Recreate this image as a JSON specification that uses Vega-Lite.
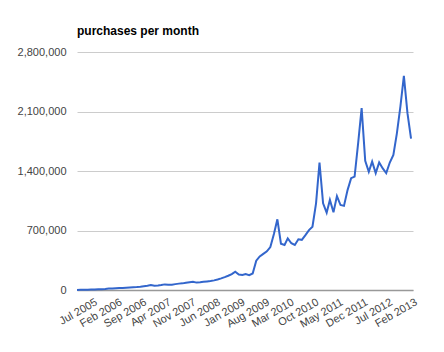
{
  "$schema": "https://vega.github.io/schema/vega-lite/v6.json",
  "width": 336,
  "height": 238,
  "autosize": "none",
  "padding": {"left": 77, "top": 52, "right": 31, "bottom": 62},
  "background": "white",
  "title": {
    "text": "purchases per month",
    "anchor": "start",
    "frame": "group",
    "font": "Liberation Sans",
    "fontSize": 12,
    "fontWeight": "bold",
    "color": "#000000",
    "offset": 8
  },
  "data": {
    "values": [
      {"month": "2005-03-01", "purchases": 1000},
      {"month": "2005-04-01", "purchases": 2000},
      {"month": "2005-05-01", "purchases": 2500},
      {"month": "2005-06-01", "purchases": 3500},
      {"month": "2005-07-01", "purchases": 4500},
      {"month": "2005-08-01", "purchases": 6000},
      {"month": "2005-09-01", "purchases": 8000},
      {"month": "2005-10-01", "purchases": 10000},
      {"month": "2005-11-01", "purchases": 13000},
      {"month": "2005-12-01", "purchases": 17000},
      {"month": "2006-01-01", "purchases": 18000},
      {"month": "2006-02-01", "purchases": 21000},
      {"month": "2006-03-01", "purchases": 23000},
      {"month": "2006-04-01", "purchases": 24000},
      {"month": "2006-05-01", "purchases": 26000},
      {"month": "2006-06-01", "purchases": 29000},
      {"month": "2006-07-01", "purchases": 32000},
      {"month": "2006-08-01", "purchases": 35000},
      {"month": "2006-09-01", "purchases": 39000},
      {"month": "2006-10-01", "purchases": 44000},
      {"month": "2006-11-01", "purchases": 50000},
      {"month": "2006-12-01", "purchases": 58000},
      {"month": "2007-01-01", "purchases": 51000},
      {"month": "2007-02-01", "purchases": 53000},
      {"month": "2007-03-01", "purchases": 58000},
      {"month": "2007-04-01", "purchases": 66000},
      {"month": "2007-05-01", "purchases": 63000},
      {"month": "2007-06-01", "purchases": 63000},
      {"month": "2007-07-01", "purchases": 69000},
      {"month": "2007-08-01", "purchases": 75000},
      {"month": "2007-09-01", "purchases": 78000},
      {"month": "2007-10-01", "purchases": 84000},
      {"month": "2007-11-01", "purchases": 91000},
      {"month": "2007-12-01", "purchases": 98000},
      {"month": "2008-01-01", "purchases": 87000},
      {"month": "2008-02-01", "purchases": 91000},
      {"month": "2008-03-01", "purchases": 96000},
      {"month": "2008-04-01", "purchases": 101000},
      {"month": "2008-05-01", "purchases": 106000},
      {"month": "2008-06-01", "purchases": 113000},
      {"month": "2008-07-01", "purchases": 124000},
      {"month": "2008-08-01", "purchases": 137000},
      {"month": "2008-09-01", "purchases": 152000},
      {"month": "2008-10-01", "purchases": 168000},
      {"month": "2008-11-01", "purchases": 187000},
      {"month": "2008-12-01", "purchases": 216000},
      {"month": "2009-01-01", "purchases": 183000},
      {"month": "2009-02-01", "purchases": 177000},
      {"month": "2009-03-01", "purchases": 188000},
      {"month": "2009-04-01", "purchases": 175000},
      {"month": "2009-05-01", "purchases": 195000},
      {"month": "2009-06-01", "purchases": 345000},
      {"month": "2009-07-01", "purchases": 395000},
      {"month": "2009-08-01", "purchases": 425000},
      {"month": "2009-09-01", "purchases": 455000},
      {"month": "2009-10-01", "purchases": 505000},
      {"month": "2009-11-01", "purchases": 660000},
      {"month": "2009-12-01", "purchases": 832000},
      {"month": "2010-01-01", "purchases": 545000},
      {"month": "2010-02-01", "purchases": 530000},
      {"month": "2010-03-01", "purchases": 608000},
      {"month": "2010-04-01", "purchases": 550000},
      {"month": "2010-05-01", "purchases": 530000},
      {"month": "2010-06-01", "purchases": 597000},
      {"month": "2010-07-01", "purchases": 590000},
      {"month": "2010-08-01", "purchases": 645000},
      {"month": "2010-09-01", "purchases": 705000},
      {"month": "2010-10-01", "purchases": 745000},
      {"month": "2010-11-01", "purchases": 1020000},
      {"month": "2010-12-01", "purchases": 1500000},
      {"month": "2011-01-01", "purchases": 1020000},
      {"month": "2011-02-01", "purchases": 910000},
      {"month": "2011-03-01", "purchases": 1060000},
      {"month": "2011-04-01", "purchases": 915000},
      {"month": "2011-05-01", "purchases": 1105000},
      {"month": "2011-06-01", "purchases": 1000000},
      {"month": "2011-07-01", "purchases": 990000},
      {"month": "2011-08-01", "purchases": 1175000},
      {"month": "2011-09-01", "purchases": 1315000},
      {"month": "2011-10-01", "purchases": 1335000},
      {"month": "2011-11-01", "purchases": 1730000},
      {"month": "2011-12-01", "purchases": 2140000},
      {"month": "2012-01-01", "purchases": 1520000},
      {"month": "2012-02-01", "purchases": 1390000},
      {"month": "2012-03-01", "purchases": 1510000},
      {"month": "2012-04-01", "purchases": 1375000},
      {"month": "2012-05-01", "purchases": 1500000},
      {"month": "2012-06-01", "purchases": 1430000},
      {"month": "2012-07-01", "purchases": 1375000},
      {"month": "2012-08-01", "purchases": 1500000},
      {"month": "2012-09-01", "purchases": 1590000},
      {"month": "2012-10-01", "purchases": 1840000},
      {"month": "2012-11-01", "purchases": 2160000},
      {"month": "2012-12-01", "purchases": 2520000},
      {"month": "2013-01-01", "purchases": 2080000},
      {"month": "2013-02-01", "purchases": 1780000}
    ]
  },
  "mark": {"type": "line", "color": "#3366cc", "strokeWidth": 2, "clip": false},
  "encoding": {
    "x": {
      "field": "month",
      "type": "temporal",
      "scale": {
        "type": "utc",
        "domain": [
          {"year": 2005, "month": 3, "date": 1, "utc": true},
          {"year": 2013, "month": 2, "date": 18, "utc": true}
        ]
      },
      "axis": {
        "title": null,
        "labelExpr": "utcFormat(datum.value, '%b %Y')",
        "values": [
          {"year": 2005, "month": 7, "date": 18, "utc": true},
          {"year": 2006, "month": 2, "date": 18, "utc": true},
          {"year": 2006, "month": 9, "date": 18, "utc": true},
          {"year": 2007, "month": 4, "date": 18, "utc": true},
          {"year": 2007, "month": 11, "date": 18, "utc": true},
          {"year": 2008, "month": 6, "date": 18, "utc": true},
          {"year": 2009, "month": 1, "date": 18, "utc": true},
          {"year": 2009, "month": 8, "date": 18, "utc": true},
          {"year": 2010, "month": 3, "date": 18, "utc": true},
          {"year": 2010, "month": 10, "date": 18, "utc": true},
          {"year": 2011, "month": 5, "date": 18, "utc": true},
          {"year": 2011, "month": 12, "date": 18, "utc": true},
          {"year": 2012, "month": 7, "date": 18, "utc": true},
          {"year": 2013, "month": 2, "date": 18, "utc": true}
        ],
        "labelAngle": -30,
        "labelAlign": "right",
        "labelBaseline": "top",
        "labelPadding": 6,
        "labelFont": "Liberation Sans",
        "labelFontSize": 11,
        "labelColor": "#444444",
        "labelOverlap": false,
        "labelFlush": false,
        "ticks": false,
        "grid": false,
        "domain": true,
        "domainColor": "#999999",
        "domainWidth": 1.5
      }
    },
    "y": {
      "field": "purchases",
      "type": "quantitative",
      "scale": {"domain": [0, 2800000], "nice": false},
      "axis": {
        "title": null,
        "values": [0, 700000, 1400000, 2100000, 2800000],
        "format": ",d",
        "labelFont": "Liberation Sans",
        "labelFontSize": 11,
        "labelColor": "#444444",
        "labelPadding": 11,
        "ticks": false,
        "domain": false,
        "grid": true,
        "gridColor": "#cccccc",
        "gridWidth": 1
      }
    }
  },
  "config": {
    "view": {"stroke": null}
  }
}
